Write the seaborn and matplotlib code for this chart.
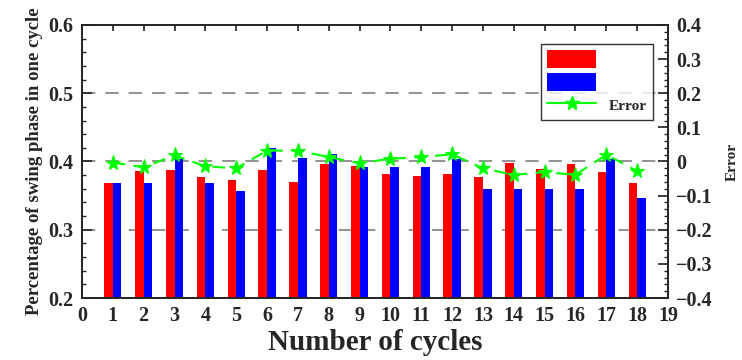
import pandas as pd
import matplotlib
matplotlib.use("Agg")
import matplotlib.pyplot as plt
from matplotlib.patches import Patch
from matplotlib.lines import Line2D
from matplotlib.ticker import MultipleLocator, FuncFormatter
import seaborn as sns

cycles = list(range(1, 19))
series_a = [0.369, 0.386, 0.388, 0.378, 0.373, 0.388, 0.370, 0.396, 0.394,
            0.382, 0.379, 0.382, 0.377, 0.398, 0.389, 0.396, 0.384, 0.369]
series_b = [0.368, 0.368, 0.404, 0.368, 0.357, 0.420, 0.405, 0.411, 0.392,
            0.392, 0.392, 0.404, 0.359, 0.359, 0.359, 0.359, 0.404, 0.346]
error = [-0.003, -0.017, 0.018, -0.014, -0.020, 0.032, 0.032, 0.013, -0.005,
         0.008, 0.013, 0.021, -0.020, -0.039, -0.031, -0.039, 0.020, -0.028]

sns.set_theme(style="ticks")
plt.rcParams["font.family"] = ["Liberation Serif", "DejaVu Serif"]
plt.rcParams["font.weight"] = "bold"

df = pd.DataFrame({
    "cycle": cycles * 2,
    "value": series_a + series_b,
    "series": ["A"] * len(cycles) + ["B"] * len(cycles),
})

fig = plt.figure(figsize=(7.42, 3.6), dpi=100)
ax = fig.add_axes([0.1105, 0.1722, 0.7898, 0.7584])

sns.barplot(data=df, x="cycle", y="value", hue="series", native_scale=True,
            palette=["#ff0000", "#0000ff"], saturation=1, width=0.56,
            linewidth=0, edgecolor="none", legend=False, ax=ax)

ax.set_xlim(0, 19)
ax.set_ylim(0.2, 0.6)
ax.xaxis.set_major_locator(MultipleLocator(1))
ax.yaxis.set_major_locator(MultipleLocator(0.1))
ax.yaxis.set_minor_locator(MultipleLocator(0.02))
ax.yaxis.set_major_formatter(FuncFormatter(lambda v, p: f"{v:.1f}"))
ax.tick_params(axis="both", which="both", direction="in", top=True,
               labelsize=14.5, pad=6)
ax.tick_params(axis="y", which="major", length=7)
ax.tick_params(axis="y", which="minor", length=3)
ax.tick_params(axis="x", which="major", length=4)
for lab in ax.get_xticklabels() + ax.get_yticklabels():
    lab.set_fontweight("bold")
for y in [0.3, 0.4, 0.5]:
    ax.axhline(y, color="#808080", lw=1.2, ls=(0, (8, 6)), zorder=0)
for s in ax.spines.values():
    s.set_linewidth(1.3)

ax.set_xlabel("Number of cycles", fontsize=21, fontweight="bold", labelpad=2)
ax.set_ylabel("Percentage of swing phase in one cycle", fontsize=13.5,
              fontweight="bold", labelpad=4)

ax2 = ax.twinx()
sns.lineplot(x=cycles, y=error, color="#00ff00", ls=(0, (6, 4)), lw=1.5,
             marker="*", markersize=11, markeredgecolor="#00ff00", ax=ax2)
ax2.set_ylim(-0.4, 0.4)
ax2.yaxis.set_major_locator(MultipleLocator(0.1))
ax2.yaxis.set_minor_locator(MultipleLocator(0.02))
ax2.yaxis.set_major_formatter(
    FuncFormatter(lambda v, p: "0" if abs(v) < 1e-9 else f"{v:.1f}".replace("-", "\u2212")))
ax2.tick_params(axis="y", which="both", direction="in", labelsize=14.5, pad=6)
ax2.tick_params(axis="y", which="major", length=7)
ax2.tick_params(axis="y", which="minor", length=3)
for lab in ax2.get_yticklabels():
    lab.set_fontweight("bold")
ax2.set_ylabel("Error", fontsize=11, fontweight="bold", labelpad=9)

handles = [
    Patch(facecolor="#ff0000", edgecolor="none"),
    Patch(facecolor="#0000ff", edgecolor="none"),
    Line2D([0], [0], color="#00ff00", lw=1.5, marker="*", markersize=10),
]
leg = ax2.legend(handles, ["", "", "Error"], loc="upper right",
                 bbox_to_anchor=(0.974, 0.93), frameon=True, fancybox=False,
                 handlelength=3.2, handleheight=1.4, labelspacing=0.35,
                 borderaxespad=0, prop={"weight": "bold", "size": 11})
leg.get_frame().set_edgecolor("black")
leg.get_frame().set_linewidth(1.0)

fig.savefig("out.png", dpi=100)
